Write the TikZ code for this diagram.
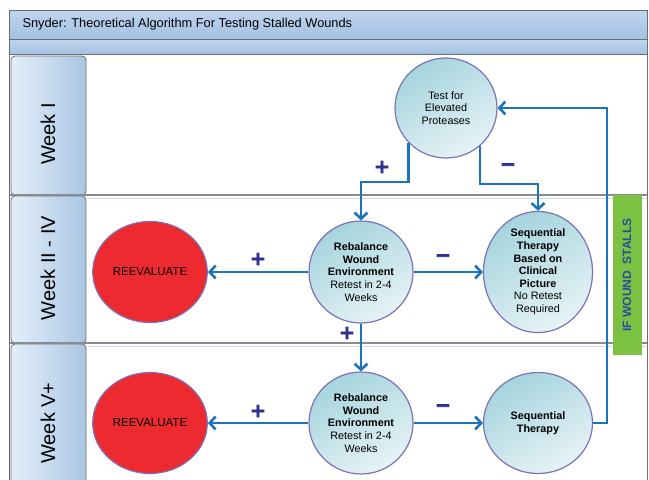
\documentclass[tikz,border=0pt]{standalone}
\usepackage{fontspec}
\setmainfont{Liberation Sans}
\newfontfamily\signfont[FakeBold=3.5]{DejaVu Sans Bold}
\usetikzlibrary{arrows.meta,shapes.geometric}

\definecolor{flowblue}{HTML}{1C75BC}
\definecolor{navy}{HTML}{2E3192}
\definecolor{ring}{HTML}{7B73B6}
\definecolor{bubA}{HTML}{A6D4DD}
\definecolor{bubB}{HTML}{E6F3F6}
\definecolor{alarm}{HTML}{EC2A2F}
\definecolor{stallgreen}{HTML}{7CC242}
\definecolor{stalltext}{HTML}{2B4A9C}
\definecolor{barA}{HTML}{BED5ED}
\definecolor{barB}{HTML}{A4C1E3}
\definecolor{laneA}{HTML}{E4EEF8}
\definecolor{laneB}{HTML}{A9C6E5}
\definecolor{frame}{HTML}{6D6E71}

\begin{document}
\begin{tikzpicture}[
    x=1pt, y=-1pt,
    bubble/.style={ellipse, draw=ring, line width=1.2pt, top color=bubA, bottom color=bubB,
      shading angle=30, align=center, inner sep=0pt, font=\fontsize{10.8}{12.6}\selectfont},
    redbubble/.style={ellipse, draw=ring, line width=1.2pt, fill=alarm,
      minimum width=114pt, minimum height=101pt, font=\fontsize{11.5}{13}\selectfont},
    flow/.style={draw=flowblue, line width=2.6pt, -{Straight Barb[length=6pt,width=13pt]}},
    sign/.style={text=navy, font=\signfont\fontsize{19}{19}\selectfont, inner sep=0pt},
    weeklabel/.style={rotate=90, font=\fontsize{20}{24}\selectfont},
    lanebox/.style={draw=frame, line width=0.8pt, rounded corners=4pt, left color=laneA, right color=laneB}
  ]
  \useasboundingbox (0,0) rectangle (649,480);

  % frame, title bars and lanes
  \fill[white] (9,10) rectangle (647,482);
  \draw[frame, line width=0.8pt, top color=barA, bottom color=barB] (9,10) rectangle (647,39);
  \draw[frame, line width=0.8pt, top color=barA, bottom color=barB] (9,39) rectangle (647,54);
  \draw[frame, line width=0.8pt] (9,54) -- (9,482) (647,54) -- (647,482);
  \node (title) [anchor=west, font=\fontsize{12.8}{15}\selectfont] at (19,24)
    {Snyder: Theoretical Algorithm For Testing Stalled Wounds};

  \draw[lanebox] (11,56) rectangle (86,195);
  \draw[lanebox] (11,196) rectangle (86,343);
  \draw[lanebox] (11,344) rectangle (86,484);
  \draw[frame!80, line width=1.2pt] (10,195) -- (647,195);
  \draw[frame!80, line width=1.2pt] (10,343) -- (647,343);
  \draw[barB!60, line width=0.6pt] (88,198) -- (646,198) (88,346) -- (646,346);

  \node (wk1) [weeklabel] at (48,134) {Week I};
  \node (wk2) [weeklabel] at (48,268) {Week II - IV};
  \node (wk3) [weeklabel] at (48,423) {Week V+};

  % nodes
  \node (test) [bubble, minimum width=102pt, minimum height=100pt] at (446,108)
    {Test for\\Elevated\\Proteases};
  \node (reb1) [bubble, minimum width=104pt, minimum height=102pt] at (361,272)
    {\textbf{Rebalance}\\\textbf{Wound}\\\textbf{Environment}\\Retest in 2-4\\Weeks};
  \node (seq1) [bubble, minimum width=109pt, minimum height=101pt] at (538,272)
    {\textbf{Sequential}\\\textbf{Therapy}\\\textbf{Based on}\\\textbf{Clinical}\\\textbf{Picture}\\No Retest\\Required};
  \node (rev1) [redbubble] at (150,272) {REEVALUATE};
  \node (reb2) [bubble, minimum width=104pt, minimum height=102pt] at (361,423)
    {\textbf{Rebalance}\\\textbf{Wound}\\\textbf{Environment}\\Retest in 2-4\\Weeks};
  \node (seq2) [bubble, minimum width=109pt, minimum height=101pt] at (538,423)
    {\textbf{Sequential}\\\textbf{Therapy}};
  \node (rev2) [redbubble] at (150,423) {REEVALUATE};
  \node (stall) [fill=stallgreen, minimum width=160pt, minimum height=29pt, inner sep=0pt,
    text=stalltext, font=\bfseries\fontsize{12}{14}\selectfont, rotate=90] at (627,275)
    {IF WOUND\ \ STALLS};
  \coordinate (back) at (607,108);

  % connectors
  \draw[flow] (test.-137) -- ++(0,39) -| (reb1);
  \draw[flow] (test.-48) -- ++(0,38) -| (seq1);
  \draw[flow] (reb1) -- (rev1);
  \draw[flow] (reb1) -- (seq1);
  \draw[flow] (reb1) -- (reb2);
  \draw[flow] (reb2) -- (rev2);
  \draw[flow] (reb2) -- (seq2);
  \draw[flow] (seq2.east) -| (back) -- (test.east);

  % signs
  \node (p1) [sign] at (382,167) {+};
  \node (m1) [sign] at (508,167) {−};
  \node (p2) [sign] at (258,259) {+};
  \node (m2) [sign] at (443,258) {−};
  \node (p3) [sign] at (347,333) {+};
  \node (p4) [sign] at (258,411) {+};
  \node (m3) [sign] at (443,408) {−};
\end{tikzpicture}
\end{document}
